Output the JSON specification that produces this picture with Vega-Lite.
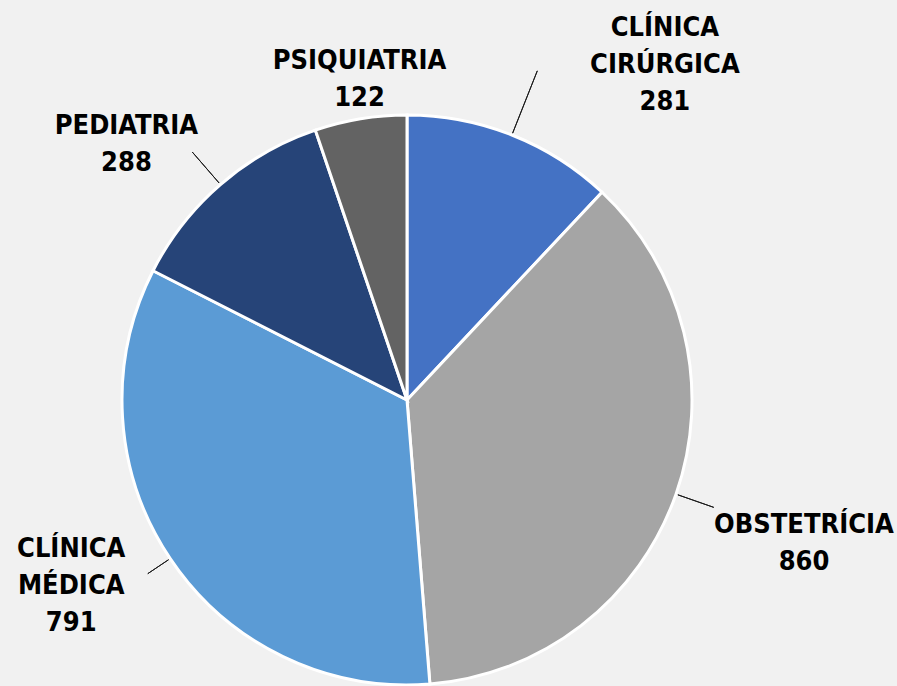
{
  "$schema": "https://vega.github.io/schema/vega-lite/v6.json",
  "width": 814,
  "height": 572,
  "autosize": {"type": "none"},
  "padding": {"left": 0, "top": 114, "right": 83, "bottom": 0},
  "background": "#F1F1F1",
  "config": {"view": {"stroke": null}},
  "data": {
    "values": [
      {"categoria": "CLÍNICA CIRÚRGICA", "rotulo": "CLÍNICA\nCIRÚRGICA\n281", "valor": 281, "ordem": 1},
      {"categoria": "OBSTETRÍCIA", "rotulo": "OBSTETRÍCIA\n860", "valor": 860, "ordem": 2},
      {"categoria": "CLÍNICA MÉDICA", "rotulo": "CLÍNICA\nMÉDICA\n791", "valor": 791, "ordem": 3},
      {"categoria": "PEDIATRIA", "rotulo": "PEDIATRIA\n288", "valor": 288, "ordem": 4},
      {"categoria": "PSIQUIATRIA", "rotulo": "PSIQUIATRIA\n122", "valor": 122, "ordem": 5}
    ]
  },
  "encoding": {
    "theta": {"field": "valor", "type": "quantitative", "stack": true},
    "order": {"field": "ordem", "type": "quantitative"},
    "detail": {"field": "categoria"}
  },
  "layer": [
    {
      "mark": {"type": "arc", "outerRadius": 285, "stroke": "white", "strokeWidth": 3},
      "encoding": {
        "color": {
          "field": "categoria",
          "type": "nominal",
          "scale": {
            "domain": ["CLÍNICA CIRÚRGICA", "OBSTETRÍCIA", "CLÍNICA MÉDICA", "PEDIATRIA", "PSIQUIATRIA"],
            "range": ["#4472C4", "#A5A5A5", "#5B9BD5", "#264478", "#636363"]
          },
          "legend": null
        }
      }
    },
    {
      "mark": {"type": "text", "radius": 285, "dx": 153, "dy": -107, "font": "'DejaVu Sans Condensed', 'Liberation Sans', sans-serif", "fontSize": 27, "fontWeight": "bold", "lineHeight": 37, "lineBreak": "\n", "align": "center", "baseline": "middle", "color": "#000000"},
      "encoding": {"text": {"condition": {"test": "datum.categoria === 'CLÍNICA CIRÚRGICA'", "field": "rotulo"}, "value": ""}}
    },
    {
      "mark": {"type": "text", "radius": 285, "dx": 128, "dy": 31, "font": "'DejaVu Sans Condensed', 'Liberation Sans', sans-serif", "fontSize": 27, "fontWeight": "bold", "lineHeight": 37, "lineBreak": "\n", "align": "center", "baseline": "middle", "color": "#000000"},
      "encoding": {"text": {"condition": {"test": "datum.categoria === 'OBSTETRÍCIA'", "field": "rotulo"}, "value": ""}}
    },
    {
      "mark": {"type": "text", "radius": 285, "dx": -99, "dy": -10, "font": "'DejaVu Sans Condensed', 'Liberation Sans', sans-serif", "fontSize": 27, "fontWeight": "bold", "lineHeight": 37, "lineBreak": "\n", "align": "center", "baseline": "middle", "color": "#000000"},
      "encoding": {"text": {"condition": {"test": "datum.categoria === 'CLÍNICA MÉDICA'", "field": "rotulo"}, "value": ""}}
    },
    {
      "mark": {"type": "text", "radius": 285, "dx": -94, "dy": -59, "font": "'DejaVu Sans Condensed', 'Liberation Sans', sans-serif", "fontSize": 27, "fontWeight": "bold", "lineHeight": 37, "lineBreak": "\n", "align": "center", "baseline": "middle", "color": "#000000"},
      "encoding": {"text": {"condition": {"test": "datum.categoria === 'PEDIATRIA'", "field": "rotulo"}, "value": ""}}
    },
    {
      "mark": {"type": "text", "radius": 285, "dx": -1, "dy": -58, "font": "'DejaVu Sans Condensed', 'Liberation Sans', sans-serif", "fontSize": 27, "fontWeight": "bold", "lineHeight": 37, "lineBreak": "\n", "align": "center", "baseline": "middle", "color": "#000000"},
      "encoding": {"text": {"condition": {"test": "datum.categoria === 'PSIQUIATRIA'", "field": "rotulo"}, "value": ""}}
    },
    {
      "transform": [
        {"stack": "valor", "groupby": [], "sort": [{"field": "ordem", "order": "ascending"}], "as": ["v0", "v1"]},
        {"fold": ["v0", "v1"], "as": ["ponta", "pos"]},
        {"aggregate": [{"op": "mean", "field": "pos", "as": "meio"}], "groupby": ["categoria"]}
      ],
      "layer": [
        {
          "transform": [{"filter": {"field": "categoria", "equal": "CLÍNICA CIRÚRGICA"}}],
          "mark": {"type": "arc", "innerRadius": 287, "outerRadius": 354, "stroke": "#1A1A1A", "strokeWidth": 1, "fillOpacity": 0},
          "encoding": {"theta": {"field": "meio", "type": "quantitative", "stack": null}, "theta2": {"field": "meio"}, "order": null, "detail": null}
        },
        {
          "transform": [{"filter": {"field": "categoria", "equal": "OBSTETRÍCIA"}}],
          "mark": {"type": "arc", "innerRadius": 287, "outerRadius": 325, "stroke": "#1A1A1A", "strokeWidth": 1, "fillOpacity": 0},
          "encoding": {"theta": {"field": "meio", "type": "quantitative", "stack": null}, "theta2": {"field": "meio"}, "order": null, "detail": null}
        },
        {
          "transform": [{"filter": {"field": "categoria", "equal": "CLÍNICA MÉDICA"}}],
          "mark": {"type": "arc", "innerRadius": 287, "outerRadius": 312, "stroke": "#1A1A1A", "strokeWidth": 1, "fillOpacity": 0},
          "encoding": {"theta": {"field": "meio", "type": "quantitative", "stack": null}, "theta2": {"field": "meio"}, "order": null, "detail": null}
        },
        {
          "transform": [{"filter": {"field": "categoria", "equal": "PEDIATRIA"}}],
          "mark": {"type": "arc", "innerRadius": 287, "outerRadius": 328, "stroke": "#1A1A1A", "strokeWidth": 1, "fillOpacity": 0},
          "encoding": {"theta": {"field": "meio", "type": "quantitative", "stack": null}, "theta2": {"field": "meio"}, "order": null, "detail": null}
        }
      ]
    }
  ]
}
